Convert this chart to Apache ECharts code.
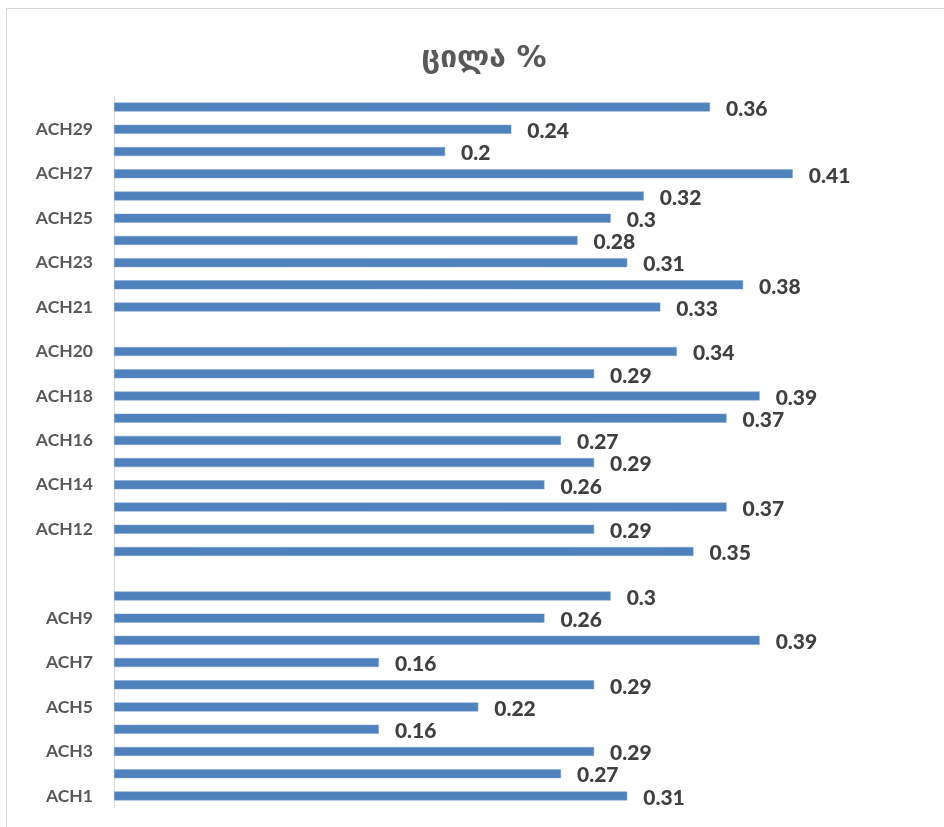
<!DOCTYPE html>
<html><head><meta charset="utf-8">
<script src="https://cdn.jsdelivr.net/npm/echarts@6/dist/echarts.min.js"></script>
<style>html,body{margin:0;padding:0;background:#fff}#c{width:944px;height:827px}</style>
</head><body><div id="c"></div>
<script>
const categories = ['ACH1','ACH2','ACH3','ACH4','ACH5','ACH6','ACH7','ACH8','ACH9','ACH10',' ',
  'ACH11','ACH12','ACH13','ACH14','ACH15','ACH16','ACH17','ACH18','ACH19','ACH20','  ',
  'ACH21','ACH22','ACH23','ACH24','ACH25','ACH26','ACH27','ACH28','ACH29','ACH30'];
const values = [0.31,0.27,0.29,0.16,0.22,0.29,0.16,0.39,0.26,0.3,null,
  0.35,0.29,0.37,0.26,0.29,0.27,0.37,0.39,0.29,0.34,null,
  0.33,0.38,0.31,0.28,0.3,0.32,0.41,0.2,0.24,0.36];
const titleText = 'ცილა %';

const chart = echarts.init(document.getElementById('c'), null, {renderer:'canvas'});
chart.setOption({
  animation: false,
  backgroundColor: '#fff',
  title: {
    text: titleText, left: 479, top: 39, textAlign: 'center',
    textStyle: {fontFamily: 'DejaVu Sans', fontSize: 30, fontWeight: 'bold', color: '#595959'}
  },
  grid: {left: 114, top: 96, right: 85, bottom: 20, containLabel: false},
  xAxis: {type: 'value', min: 0, max: 0.45, show: false},
  yAxis: {
    type: 'category', data: categories,
    axisLine: {show: true, lineStyle: {color: '#d9d9d9', width: 1}},
    axisTick: {show: false},
    axisLabel: {interval: 1, margin: 21, fontFamily: 'Lato', fontWeight: 'bold', fontSize: 17.5, color: '#595959'}
  },
  series: [{
    type: 'bar', data: values, barWidth: 9,
    itemStyle: {color: '#4f81bd', borderColor: '#7fa3cf', borderWidth: 0.5},
    label: {show: true, position: 'right', distance: 16, offset: [0, 2],
      fontFamily: 'Lato', fontWeight: 900, fontSize: 21, color: '#404040'}
  }],
  graphic: [
    {type: 'line', shape: {x1: 6, y1: 8.5, x2: 944, y2: 8.5}, style: {stroke: '#d9d9d9', lineWidth: 1}},
    {type: 'line', shape: {x1: 6.5, y1: 8, x2: 6.5, y2: 827}, style: {stroke: '#d9d9d9', lineWidth: 1}}
  ]
});
</script></body></html>
